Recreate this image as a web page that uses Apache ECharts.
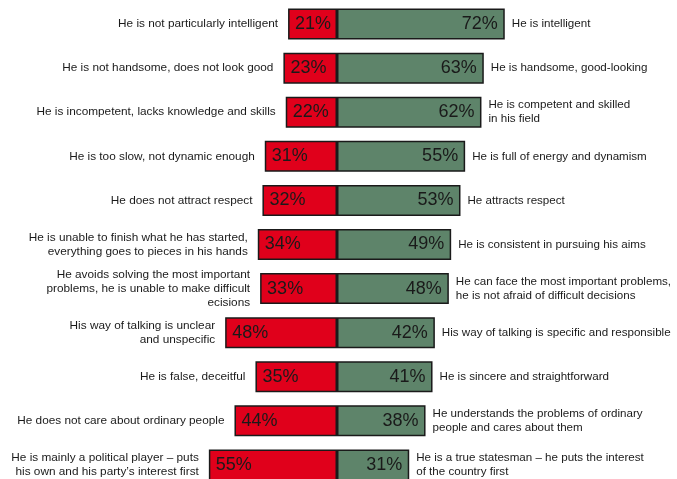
<!DOCTYPE html>
<html>
<head>
<meta charset="utf-8">
<script src="https://cdn.jsdelivr.net/npm/echarts@6/dist/echarts.min.js"></script>
<style>
  html, body { margin: 0; padding: 0; background: #fff; }
  #main { width: 677px; height: 479px; }
</style>
</head>
<body>
<div id="main"></div>
<script>
// negative traits (left side) and positive traits (right side)
const negLabels = [
  'He is not particularly intelligent',
  'He is not handsome, does not look good',
  'He is incompetent, lacks knowledge and skills',
  'He is too slow, not dynamic enough',
  'He does not attract respect',
  'He is unable to finish what he has started,\neverything goes to pieces in his hands',
  'He avoids solving the most important\nproblems, he is unable to make difficult\necisions',
  'His way of talking is unclear\nand unspecific',
  'He is false, deceitful',
  'He does not care about ordinary people',
  'He is mainly a political player \u2013 puts\nhis own and his party\u2019s interest first'
];
const posLabels = [
  'He is intelligent',
  'He is handsome, good-looking',
  'He is competent and skilled\nin his field',
  'He is full of energy and dynamism',
  'He attracts respect',
  'He is consistent in pursuing his aims',
  'He can face the most important problems,\nhe is not afraid of difficult decisions',
  'His way of talking is specific and responsible',
  'He is sincere and straightforward',
  'He understands the problems of ordinary\npeople and cares about them',
  'He is a true statesman \u2013 he puts the interest\nof the country first'
];
const negValues = [21, 23, 22, 31, 32, 34, 33, 48, 35, 44, 55];
const posValues = [72, 63, 62, 55, 53, 49, 48, 42, 41, 38, 31];

const rows = negLabels.map((_, i) => 'r' + i);
const chart = echarts.init(document.getElementById('main'));

const barW = 31;
const border = { borderColor: '#1a1a1a', borderWidth: 1.5 };
const textStyle = { fontFamily: 'Liberation Sans, Arial, sans-serif', color: '#1a1a1a' };

chart.setOption({
  animation: false,
  grid: { left: 104, width: 466, top: 2, height: 485, outerBoundsMode: 'none' },
  xAxis: { type: 'value', min: -100, max: 100, show: false },
  yAxis: { type: 'category', data: rows, inverse: true, show: false },
  series: [
    {
      type: 'bar',
      data: negValues.map(v => -v),
      barWidth: barW,
      barGap: '-100%',
      itemStyle: Object.assign({ color: '#e0001b' }, border),
      label: {
        show: true, position: 'insideLeft', distance: 7,
        fontSize: 18, ...textStyle,
        formatter: p => Math.abs(p.value) + '%'
      }
    },
    {
      type: 'bar',
      data: posValues,
      barWidth: barW,
      barGap: '-100%',
      itemStyle: Object.assign({ color: '#5e846a' }, border),
      label: {
        show: true, position: 'insideRight', distance: 7,
        fontSize: 18, ...textStyle,
        formatter: p => p.value + '%'
      }
    },
    {
      type: 'bar',
      data: negValues.map(v => -v),
      barWidth: barW,
      barGap: '-100%',
      silent: true,
      itemStyle: { color: 'rgba(0,0,0,0)' },
      label: {
        show: true, position: 'left', distance: 10,
        fontSize: 11.8, lineHeight: 14, align: 'right', ...textStyle,
        formatter: p => negLabels[p.dataIndex]
      }
    },
    {
      type: 'bar',
      data: posValues,
      barWidth: barW,
      barGap: '-100%',
      silent: true,
      itemStyle: { color: 'rgba(0,0,0,0)' },
      label: {
        show: true, position: 'right', distance: 7,
        fontSize: 11.6, lineHeight: 14, align: 'left', ...textStyle,
        formatter: p => posLabels[p.dataIndex]
      }
    }
  ]
});
</script>
</body>
</html>
